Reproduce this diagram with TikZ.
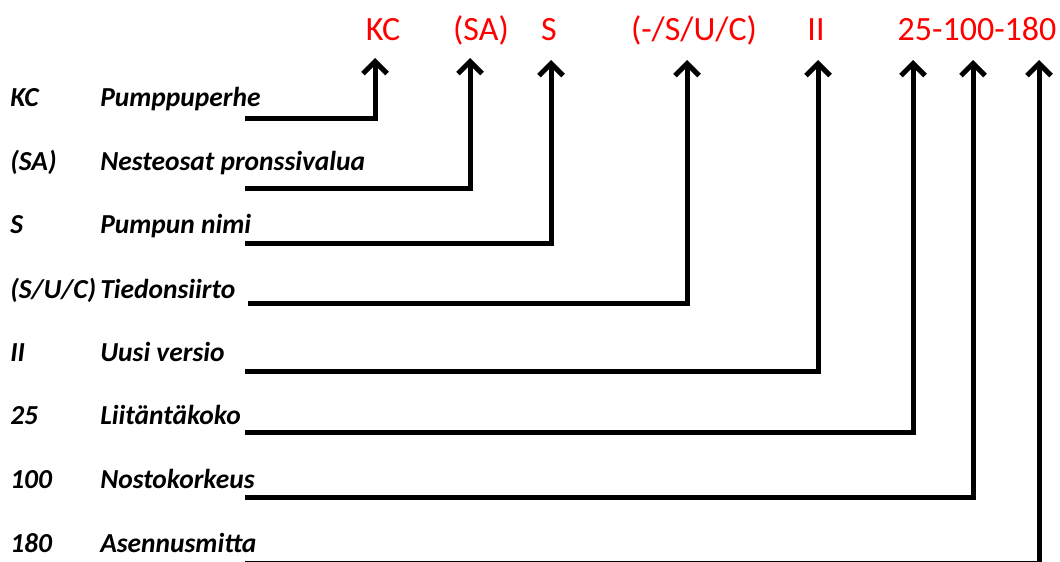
\documentclass[tikz,border=0pt]{standalone}
\usepackage{fontspec}
\setmainfont{Carlito}
\usepackage{tikz}
\usetikzlibrary{arrows.meta}

\begin{document}
\begin{tikzpicture}[x=0.75pt, y=-0.75pt,
	code/.style = {text=red, font=\fontsize{25.5}{30}\selectfont, anchor=base, inner sep=0pt},
	item/.style = {font=\fontsize{20.6}{24}\selectfont\bfseries\itshape, anchor=base west, inner sep=0pt},
	conn/.style = {line width=3.75pt, -{Straight Barb[length=9pt, width=18pt]}}]
					\useasboundingbox (0,0) rectangle (1060,561);
					
					\node[code] (kc) at (383,40) {KC};
					\node[code] (sa) at (481,40) {(SA)};
					\node[code] (s) at (549,40) {S};
					\node[code] (suc) at (694,40) {(-/S/U/C)};
					\node[code] (ii) at (816,40) {II};
					\node[code] (size) at (977,40) {25-100-180};
					
					\node[item] (k1) at (10,106) {KC};
					\node[item] (k2) at (10,170) {(SA)};
					\node[item] (k3) at (10,233) {S};
					\node[item] (k4) at (10,298) {(S/U/C)};
					\node[item] (k5) at (10,361) {II};
					\node[item] (k6) at (10,424) {25};
					\node[item] (k7) at (10,488) {100};
					\node[item] (k8) at (10,552) {180};
					
					\node[item] (d1) at (100,106) {Pumppuperhe};
					\node[item] (d2) at (100,170) {Nesteosat pronssivalua};
					\node[item] (d3) at (100,233) {Pumpun nimi};
					\node[item] (d4) at (100,298) {Tiedonsiirto};
					\node[item] (d5) at (100,361) {Uusi versio};
					\node[item] (d6) at (100,424) {Liitäntäkoko};
					\node[item] (d7) at (100,488) {Nostokorkeus};
					\node[item] (d8) at (100,552) {Asennusmitta};
					
					\coordinate (a1) at (245,118);
					\coordinate (a2) at (245,188);
					\coordinate (a3) at (245,243);
					\coordinate (a4) at (248,303);
					\coordinate (a5) at (245,371);
					\coordinate (a6) at (245,432);
					\coordinate (a7) at (245,497);
					\coordinate (a8) at (245,563.5);
					
					\coordinate (t1) at (375,58);
					\coordinate (t2) at (470,58);
					\coordinate (t3) at (551,60);
					\coordinate (t4) at (687,60);
					\coordinate (t5) at (818,60);
					\coordinate (t6) at (913,60);
					\coordinate (t7) at (973,60);
					\coordinate (t8) at (1039,60);
					
					\draw[conn] (a1) -| (t1);
					\draw[conn] (a2) -| (t2);
					\draw[conn] (a3) -| (t3);
					\draw[conn] (a4) -| (t4);
					\draw[conn] (a5) -| (t5);
					\draw[conn] (a6) -| (t6);
					\draw[conn] (a7) -| (t7);
					\draw[conn] (a8) -| (t8);
				\end{tikzpicture}
\end{document}
